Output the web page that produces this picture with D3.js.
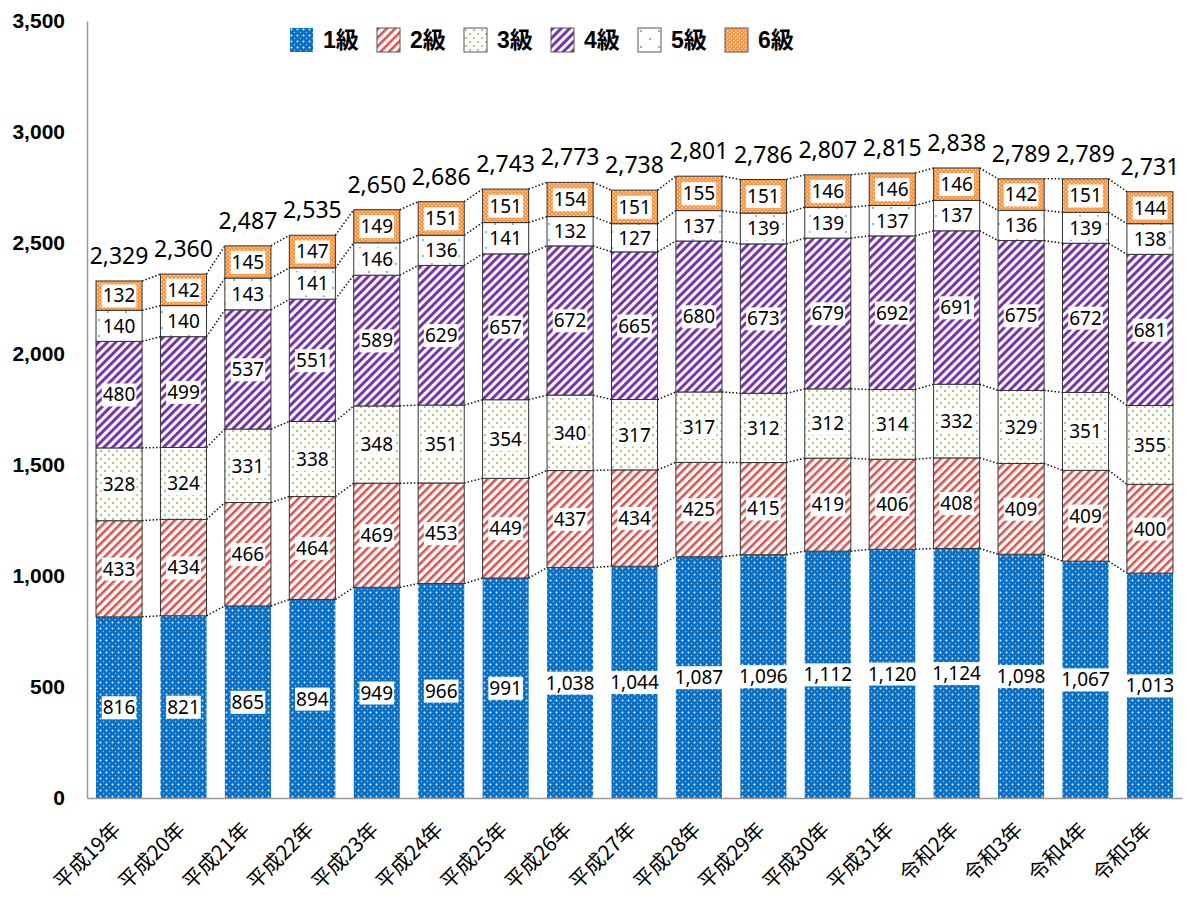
<!DOCTYPE html>
<html>
<head>
<meta charset="utf-8">
<script src="https://cdn.jsdelivr.net/npm/d3@7"></script>
<style>
  body { margin: 0; background: #fff; }
  svg { display: block; }
</style>
</head>
<body>
<div id="chart"></div>
<script>
// categories and values
var years = ["平成19年", "平成20年", "平成21年", "平成22年", "平成23年", "平成24年", "平成25年",
  "平成26年", "平成27年", "平成28年", "平成29年", "平成30年", "平成31年",
  "令和2年", "令和3年", "令和4年", "令和5年"];
var grade1 = [816, 821, 865, 894, 949, 966, 991, 1038, 1044, 1087, 1096, 1112, 1120, 1124, 1098, 1067, 1013];
var grade2 = [433, 434, 466, 464, 469, 453, 449, 437, 434, 425, 415, 419, 406, 408, 409, 409, 400];
var grade3 = [328, 324, 331, 338, 348, 351, 354, 340, 317, 317, 312, 312, 314, 332, 329, 351, 355];
var grade4 = [480, 499, 537, 551, 589, 629, 657, 672, 665, 680, 673, 679, 692, 691, 675, 672, 681];
var grade5 = [140, 140, 143, 141, 146, 136, 141, 132, 127, 137, 139, 139, 137, 137, 136, 139, 138];
var grade6 = [132, 142, 145, 147, 149, 151, 151, 154, 151, 155, 151, 146, 146, 146, 142, 151, 144];
var totals = [2329, 2360, 2487, 2535, 2650, 2686, 2743, 2773, 2738, 2801, 2786, 2807, 2815, 2838, 2789, 2789, 2731];
var seriesNames = ["1級", "2級", "3級", "4級", "5級", "6級"];
var yTicks = [0, 500, 1000, 1500, 2000, 2500, 3000, 3500];

var W = 1186, H = 899;
var margin = {top: 21, right: 4, bottom: 101, left: 87},
    width = W - margin.left - margin.right,
    height = H - margin.top - margin.bottom;

var svg = d3.select("#chart").append("svg")
    .attr("width", W).attr("height", H);

// fill patterns
var defs = svg.append("defs");

var p1 = defs.append("pattern").attr("id", "pat1")
  .attr("patternUnits", "userSpaceOnUse").attr("width", 6).attr("height", 6);
p1.append("rect").attr("width", 6).attr("height", 6).attr("fill", "#0a70c4");
p1.append("circle").attr("cx", 1.5).attr("cy", 1.5).attr("r", 1).attr("fill", "#e6f2ff");
p1.append("circle").attr("cx", 4.5).attr("cy", 4.5).attr("r", 0.7).attr("fill", "#9ccbf2");

function stripes(id, color, w) {
  var p = defs.append("pattern").attr("id", id)
    .attr("patternUnits", "userSpaceOnUse").attr("width", 6).attr("height", 6)
    .attr("patternTransform", "rotate(45)");
  p.append("rect").attr("width", 6).attr("height", 6).attr("fill", "#fff");
  p.append("rect").attr("width", w).attr("height", 6).attr("fill", color);
}
stripes("pat2", "#d9534f", 2.6);
stripes("pat4", "#7a33b0", 3);

var p3 = defs.append("pattern").attr("id", "pat3")
  .attr("patternUnits", "userSpaceOnUse").attr("width", 8).attr("height", 8);
p3.append("rect").attr("width", 8).attr("height", 8).attr("fill", "#fff");
p3.append("circle").attr("cx", 2).attr("cy", 2).attr("r", 1.1).attr("fill", "#9bbb59");
p3.append("circle").attr("cx", 6).attr("cy", 6).attr("r", 1.1).attr("fill", "#9bbb59");

var p5 = defs.append("pattern").attr("id", "pat5")
  .attr("patternUnits", "userSpaceOnUse").attr("width", 18).attr("height", 16);
p5.append("rect").attr("width", 18).attr("height", 16).attr("fill", "#fff");
p5.append("circle").attr("cx", 3).attr("cy", 3).attr("r", 1).attr("fill", "#4bacc6");
p5.append("circle").attr("cx", 12).attr("cy", 11).attr("r", 1).attr("fill", "#4bacc6");

var p6 = defs.append("pattern").attr("id", "pat6")
  .attr("patternUnits", "userSpaceOnUse").attr("width", 4).attr("height", 4);
p6.append("rect").attr("width", 4).attr("height", 4).attr("fill", "#f79646");
p6.append("rect").attr("x", 0).attr("y", 0).attr("width", 1.3).attr("height", 1.3).attr("fill", "#fde3cc");
p6.append("rect").attr("x", 2).attr("y", 2).attr("width", 1.3).attr("height", 1.3).attr("fill", "#fde3cc");

var fills = ["url(#pat1)", "url(#pat2)", "url(#pat3)", "url(#pat4)", "url(#pat5)", "url(#pat6)"];
var swatchStroke = ["none", "#555", "#555", "#555", "#555", "#555"];

var g = svg.append("g")
  .attr("transform", "translate(" + margin.left + "," + margin.top + ")");

var xScale = d3.scaleBand().domain(years).range([0, width]).paddingInner(0.285).paddingOuter(0.14);
var yScale = d3.scaleLinear().domain([0, 3500]).range([height, 0]);

// stack the rows
var rows = years.map(function(y, i) {
  return {year: y, "1級": grade1[i], "2級": grade2[i], "3級": grade3[i],
    "4級": grade4[i], "5級": grade5[i], "6級": grade6[i]};
});
var stacked = d3.stack().keys(seriesNames)(rows);

// dotted series lines between bars
stacked.forEach(function(layer) {
  for (var i = 0; i < layer.length - 1; i++) {
    g.append("line")
      .attr("x1", xScale(years[i]) + xScale.bandwidth())
      .attr("y1", yScale(layer[i][1]))
      .attr("x2", xScale(years[i + 1]))
      .attr("y2", yScale(layer[i + 1][1]))
      .attr("stroke", "#111").attr("stroke-width", 1.5)
      .attr("stroke-dasharray", "1.5,2");
  }
});

// bars
stacked.forEach(function(layer, si) {
  g.append("g").selectAll("rect").data(layer).enter().append("rect")
    .attr("x", function(d) { return xScale(d.data.year); })
    .attr("y", function(d) { return yScale(d[1]); })
    .attr("width", xScale.bandwidth())
    .attr("height", function(d) { return yScale(d[0]) - yScale(d[1]); })
    .attr("fill", fills[si])
    .attr("stroke", si === 0 ? "none" : "#333")
    .attr("stroke-width", 1);
});

// segment labels with white boxes
var fmt = d3.format(",");
stacked.forEach(function(layer, si) {
  layer.forEach(function(d) {
    var cx = xScale(d.data.year) + xScale.bandwidth() / 2;
    var cy = (yScale(d[0]) + yScale(d[1])) / 2;
    var lg = g.append("g");
    var t = lg.append("text")
      .attr("x", cx).attr("y", cy)
      .attr("text-anchor", "middle").attr("dy", "0.36em")
      .attr("font-family", "'Noto Sans', sans-serif").attr("font-size", 19)
      .attr("fill", "#000")
      .text(fmt(d[1] - d[0]));
    var bb = t.node().getBBox();
    lg.insert("rect", "text")
      .attr("x", bb.x - 1).attr("y", bb.y + 2)
      .attr("width", bb.width + 2).attr("height", bb.height - 3)
      .attr("fill", "#fff");
  });
});

// totals above bars
g.append("g").selectAll("text").data(years).enter().append("text")
  .attr("x", function(d) { return xScale(d) + xScale.bandwidth() / 2; })
  .attr("y", function(d, i) { return yScale(totals[i]) - 17; })
  .attr("text-anchor", "middle")
  .attr("font-family", "'Noto Sans', sans-serif").attr("font-size", 23)
  .attr("fill", "#000")
  .text(function(d, i) { return fmt(totals[i]); });

// axes
var yAxis = g.append("g")
  .call(d3.axisLeft(yScale).tickValues(yTicks).tickFormat(fmt).tickSize(0).tickPadding(22));
yAxis.select(".domain").attr("stroke", "#999").attr("stroke-width", 1.5);
yAxis.selectAll("text")
  .attr("font-family", "'Liberation Sans', Arial, sans-serif")
  .attr("font-size", 21).attr("font-weight", "bold").attr("fill", "#000");

var xAxis = g.append("g")
  .attr("transform", "translate(0," + height + ")")
  .call(d3.axisBottom(xScale).tickSize(0).tickSizeOuter(0));
xAxis.select(".domain").attr("stroke", "#999").attr("stroke-width", 1.5);
xAxis.selectAll("text")
  .attr("font-family", "'Noto Sans CJK JP', sans-serif")
  .attr("font-size", 20.5).attr("fill", "#000")
  .style("text-anchor", "end")
  .attr("x", 0).attr("y", 0).attr("dy", 0)
  .attr("transform", "translate(3,33) rotate(-45)");

// legend
var legend = svg.append("g").attr("transform", "translate(290,28)");
seriesNames.forEach(function(name, i) {
  var lg = legend.append("g").attr("transform", "translate(" + (i * 87) + ",0)");
  lg.append("rect").attr("width", 23).attr("height", 24)
    .attr("fill", fills[i]).attr("stroke", swatchStroke[i]).attr("stroke-width", 1);
  lg.append("text").attr("x", 33).attr("y", 12).attr("dy", "0.36em")
    .attr("font-family", "'Liberation Sans', Arial, 'Noto Sans CJK JP', sans-serif")
    .attr("font-size", 23).attr("font-weight", "bold")
    .text(name);
});
</script>
</body>
</html>
